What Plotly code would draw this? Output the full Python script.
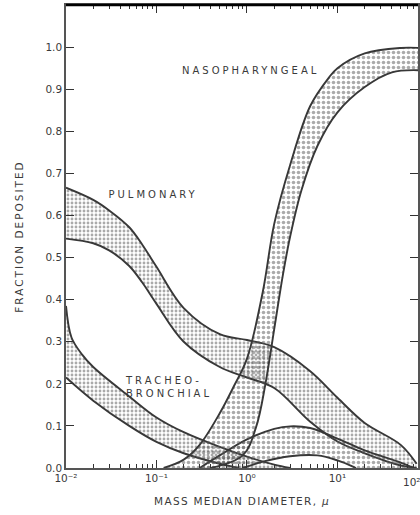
import plotly.graph_objects as go

# ---- data (diameter in microns, fraction deposited) ----
pulm_upper_d = [0.01, 0.02, 0.03, 0.05, 0.07, 0.1, 0.2, 0.5, 1, 2, 5, 10, 20, 50, 75]
pulm_upper_f = [0.666, 0.637, 0.612, 0.572, 0.53, 0.478, 0.38, 0.318, 0.304, 0.287, 0.23, 0.167, 0.107, 0.055, 0.01]
pulm_lower_d = [0.01, 0.02, 0.03, 0.05, 0.07, 0.1, 0.2, 0.5, 1, 2, 5, 10, 20, 50, 75]
pulm_lower_f = [0.545, 0.534, 0.517, 0.48, 0.44, 0.39, 0.30, 0.24, 0.215, 0.19, 0.11, 0.063, 0.035, 0.006, 0.0]

tb_fine_upper_d = [0.01, 0.0115, 0.015, 0.02, 0.05, 0.1, 0.2, 0.5, 1, 2, 3]
tb_fine_upper_f = [0.385, 0.31, 0.27, 0.24, 0.17, 0.12, 0.085, 0.05, 0.027, 0.008, 0.0]
tb_fine_lower_d = [0.01, 0.02, 0.05, 0.1, 0.2, 0.5, 0.8]
tb_fine_lower_f = [0.215, 0.16, 0.10, 0.062, 0.035, 0.01, 0.0]

tb_coarse_upper_d = [0.3, 0.5, 1, 2, 3, 5, 10, 20, 50, 70]
tb_coarse_upper_f = [0.0, 0.03, 0.068, 0.093, 0.099, 0.095, 0.07, 0.042, 0.013, 0.0]
tb_coarse_lower_d = [0.9, 1.5, 3, 6, 10, 16]
tb_coarse_lower_f = [0.0, 0.015, 0.028, 0.03, 0.018, 0.0]

naso_upper_d = [0.12, 0.2, 0.3, 0.5, 0.7, 1.0, 1.5, 2, 3, 5, 8, 10, 20, 50, 80]
naso_upper_f = [0.0, 0.02, 0.055, 0.13, 0.19, 0.26, 0.42, 0.58, 0.72, 0.86, 0.927, 0.95, 0.985, 0.998, 0.998]
naso_lower_d = [0.4, 0.9, 1.26, 1.6, 2, 2.5, 3, 4, 6, 10, 20, 40, 80]
naso_lower_f = [0.0, 0.03, 0.097, 0.20, 0.33, 0.46, 0.55, 0.66, 0.765, 0.845, 0.905, 0.94, 0.945]

x_tickvals = [0.01, 0.1, 1, 10]
x_ticktext = ["10⁻²", "10⁻¹", "10⁰", "10¹"]
x_last_label = "10²"
y_tickvals = [0.0, 0.1, 0.2, 0.3, 0.4, 0.5, 0.6, 0.7, 0.8, 0.9, 1.0]
y_ticktext = ["0.0", "0.1", "0.2", "0.3", "0.4", "0.5", "0.6", "0.7", "0.8", "0.9", "1.0"]
minor_vals = [m * 10.0 ** e for e in (-2, -1, 0, 1) for m in range(2, 10)]

LINE = "#383838"
FONT = "DejaVu Sans"
TXT = "#3a3a3a"

fig = go.Figure()

def band(lo_d, lo_f, up_d, up_f, size):
    fig.add_trace(go.Scatter(x=lo_d, y=lo_f, mode="lines",
                             line=dict(color=LINE, width=1.9, shape="spline", smoothing=1.0),
                             showlegend=False, hoverinfo="skip"))
    fig.add_trace(go.Scatter(x=up_d, y=up_f, mode="lines", fill="tonexty",
                             fillcolor="rgba(0,0,0,0)",
                             fillpattern=dict(shape=".", size=size, solidity=0.4,
                                              fgcolor="#555555", bgcolor="rgba(0,0,0,0)"),
                             line=dict(color=LINE, width=1.9, shape="spline", smoothing=1.0),
                             showlegend=False, hoverinfo="skip"))

band(pulm_lower_d, pulm_lower_f, pulm_upper_d, pulm_upper_f, 4)
band(tb_fine_lower_d, tb_fine_lower_f, tb_fine_upper_d, tb_fine_upper_f, 4)
band(tb_coarse_lower_d, tb_coarse_lower_f, tb_coarse_upper_d, tb_coarse_upper_f, 5)
band(naso_lower_d, naso_lower_f, naso_upper_d, naso_upper_f, 5)

axis_common = dict(showgrid=False, zeroline=False, showline=True, linecolor="#555",
                   linewidth=1.5, mirror="allticks", ticks="inside", ticklen=8,
                   tickwidth=1.3, tickcolor="#333",
                   tickfont=dict(family=FONT, size=10.5, color=TXT))

fig.update_layout(
    width=420, height=515,
    margin=dict(l=66, r=0, t=5, b=47),
    paper_bgcolor="white", plot_bgcolor="white",
    font=dict(family=FONT, color=TXT),
    xaxis=dict(type="log", range=[-2, 1.89], tickmode="array",
               tickvals=x_tickvals, ticktext=x_ticktext,
               minor=dict(tickmode="array", tickvals=minor_vals, ticks="inside",
                          ticklen=4, tickcolor="#333", showgrid=False),
               title=dict(text="MASS MEDIAN DIAMETER, <i>μ</i>", standoff=14,
                          font=dict(family=FONT, size=10.5, color=TXT)),
               **axis_common),
    yaxis=dict(range=[0, 1.1], tickmode="array", tickvals=y_tickvals, ticktext=y_ticktext,
               title=dict(text="FRACTION DEPOSITED", standoff=20,
                          font=dict(family=FONT, size=10.5, color=TXT)),
               **axis_common),
    shapes=[dict(type="line", xref="paper", yref="paper", x0=0, x1=1, y0=1, y1=1,
                 line=dict(color="black", width=2.5))],
    annotations=[
        dict(text="NASOPHARYNGEAL", x=0.525, y=0.875, xref="paper", yref="paper",
             xanchor="center", showarrow=False, font=dict(family=FONT, size=10, color=TXT)),
        dict(text="PULMONARY", x=0.249, y=0.59, xref="paper", yref="paper",
             xanchor="center", showarrow=False, font=dict(family=FONT, size=10, color=TXT)),
        dict(text="TRACHEO-<br>BRONCHIAL", x=0.161, y=0.175, xref="paper", yref="paper",
             xanchor="left", yanchor="middle", align="left", showarrow=False,
             font=dict(family=FONT, size=10, color=TXT)),
        dict(text=x_last_label, x=0.952, y=-0.012, xref="paper", yref="paper",
             xanchor="left", yanchor="top", showarrow=False,
             font=dict(family=FONT, size=10.5, color=TXT)),
    ],
)

post = """
document.body.style.margin='0';
var anns = document.querySelectorAll('.annotation-text');
for (var i = 0; i < anns.length && i < 3; i++) { anns[i].style.letterSpacing = '3px'; }
document.querySelectorAll('.xtitle').forEach(function(e){ e.style.letterSpacing = '1.3px'; });
document.querySelectorAll('.ytitle').forEach(function(e){ e.style.letterSpacing = '2px'; });
"""

fig.write_html("out.html", config={"displayModeBar": False}, post_script=post)
